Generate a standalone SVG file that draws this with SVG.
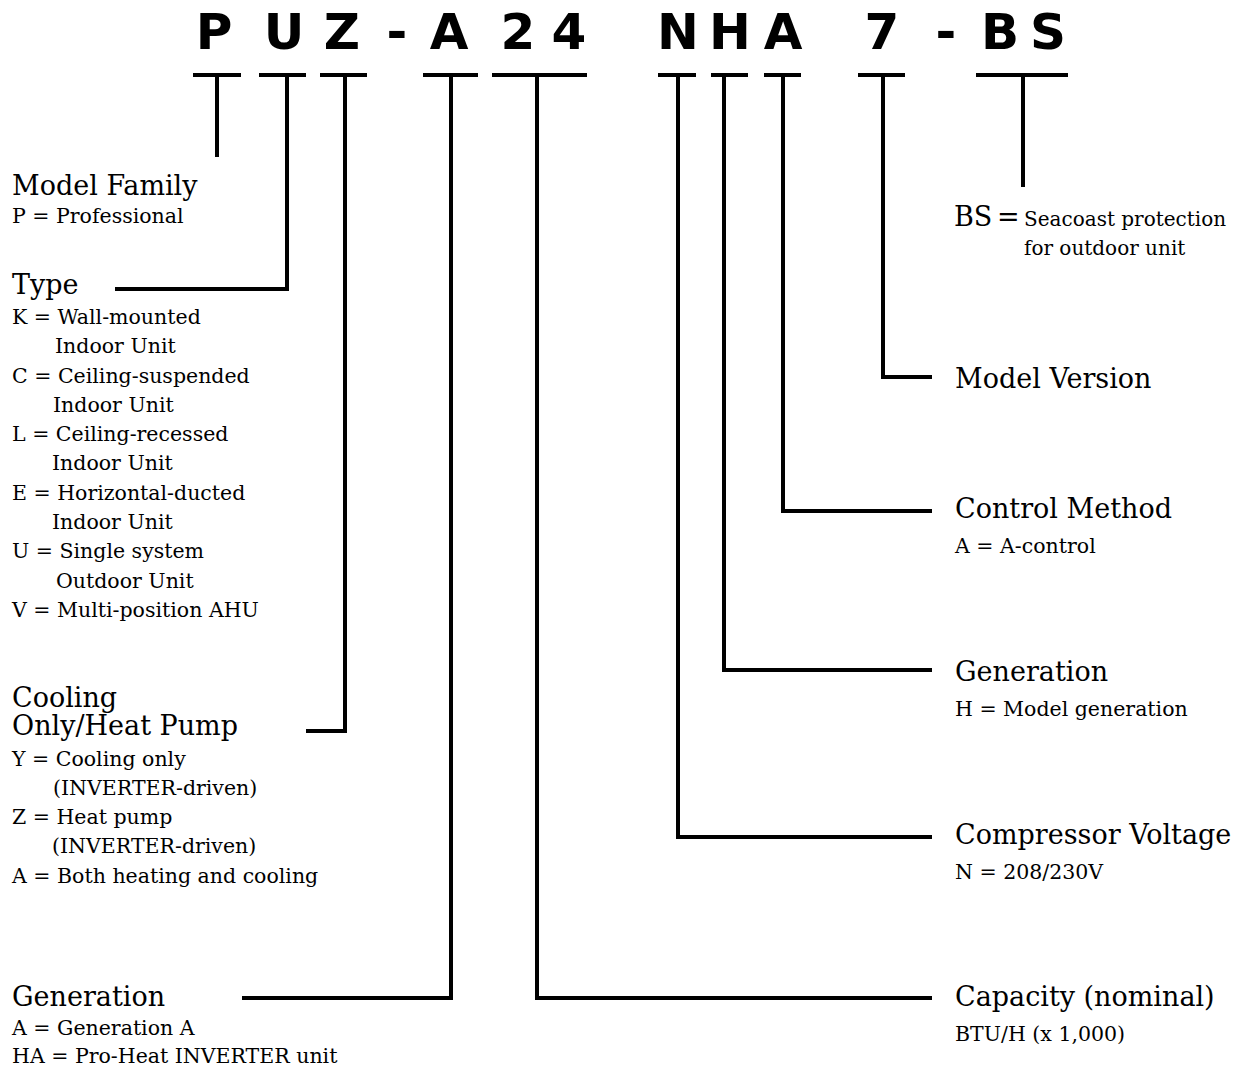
<svg xmlns="http://www.w3.org/2000/svg" width="1243" height="1069" viewBox="0 0 1243 1069">
<style>
.code{font-family:"DejaVu Sans","Liberation Sans",sans-serif;font-weight:bold;font-size:50px;fill:#000;text-anchor:middle}
.h{font-family:"DejaVu Serif","Liberation Serif",serif;font-size:27px;fill:#000}
.s{font-family:"DejaVu Serif","Liberation Serif",serif;font-size:20.5px;fill:#000}
.bs{font-family:"DejaVu Serif","Liberation Serif",serif;font-size:20px;fill:#000}
.ln{stroke:#000;stroke-width:4;fill:none}
</style>
<rect width="1243" height="1069" fill="#fff"/>
<g id="code">
<text class="code" x="214" y="49">P</text>
<text class="code" x="284" y="49">U</text>
<text class="code" x="342" y="49">Z</text>
<text class="code" x="397" y="49">-</text>
<text class="code" x="449" y="49">A</text>
<text class="code" x="518" y="49">2</text>
<text class="code" x="569" y="49">4</text>
<text class="code" x="678" y="49">N</text>
<text class="code" x="730" y="49">H</text>
<text class="code" x="783" y="49">A</text>
<text class="code" x="882" y="49">7</text>
<text class="code" x="946" y="49">-</text>
<text class="code" x="1000" y="49">B</text>
<text class="code" x="1048" y="49">S</text>
</g>
<g id="connectors" class="ln">
<path d="M193 75H241M217 75V157"/>
<path d="M259 75H306M287 75V289H115"/>
<path d="M320 75H367M345 75V731H306"/>
<path d="M423 75H478M451 75V998H242"/>
<path d="M492 75H587M537 75V998H932"/>
<path d="M658 75H696M678 75V837H932"/>
<path d="M711 75H748M724 75V670H932"/>
<path d="M764 75H801M783 75V511H932"/>
<path d="M858 75H905M883 75V377H932"/>
<path d="M976 75H1068M1023 75V187"/>
</g>
<g id="model-family">
<text class="h" x="12" y="195">Model Family</text>
<text class="s" x="12" y="223">P = Professional</text>
</g>
<g id="type">
<text class="h" x="12" y="294">Type</text>
<text class="s" x="12" y="324">K = Wall-mounted</text>
<text class="s" x="55" y="353">Indoor Unit</text>
<text class="s" x="12" y="383">C = Ceiling-suspended</text>
<text class="s" x="53" y="412">Indoor Unit</text>
<text class="s" x="12" y="441">L = Ceiling-recessed</text>
<text class="s" x="52" y="470">Indoor Unit</text>
<text class="s" x="12" y="500">E = Horizontal-ducted</text>
<text class="s" x="52" y="529">Indoor Unit</text>
<text class="s" x="12" y="558">U = Single system</text>
<text class="s" x="56" y="588">Outdoor Unit</text>
<text class="s" x="12" y="617">V = Multi-position AHU</text>
</g>
<g id="cooling-heat">
<text class="h" x="12" y="707">Cooling</text>
<text class="h" x="12" y="735">Only/Heat Pump</text>
<text class="s" x="12" y="766">Y = Cooling only</text>
<text class="s" x="53" y="795">(INVERTER-driven)</text>
<text class="s" x="12" y="824">Z = Heat pump</text>
<text class="s" x="52" y="853">(INVERTER-driven)</text>
<text class="s" x="12" y="883">A = Both heating and cooling</text>
</g>
<g id="generation-left">
<text class="h" x="12" y="1006">Generation</text>
<text class="s" x="12" y="1035">A = Generation A</text>
<text class="s" x="12" y="1063">HA = Pro-Heat INVERTER unit</text>
</g>
<g id="bs">
<text class="h" x="954" y="226">BS</text>
<text class="h" x="997" y="226">=</text>
<text class="bs" x="1024" y="226">Seacoast protection</text>
<text class="bs" x="1024" y="255">for outdoor unit</text>
</g>
<g id="model-version">
<text class="h" x="955" y="388">Model Version</text>
</g>
<g id="control-method">
<text class="h" x="955" y="518">Control Method</text>
<text class="s" x="955" y="553">A = A-control</text>
</g>
<g id="generation-right">
<text class="h" x="955" y="681">Generation</text>
<text class="s" x="955" y="716">H = Model generation</text>
</g>
<g id="compressor-voltage">
<text class="h" x="955" y="844">Compressor Voltage</text>
<text class="s" x="955" y="879">N = 208/230V</text>
</g>
<g id="capacity">
<text class="h" x="955" y="1006">Capacity (nominal)</text>
<text class="s" x="955" y="1041">BTU/H (x 1,000)</text>
</g>
</svg>
